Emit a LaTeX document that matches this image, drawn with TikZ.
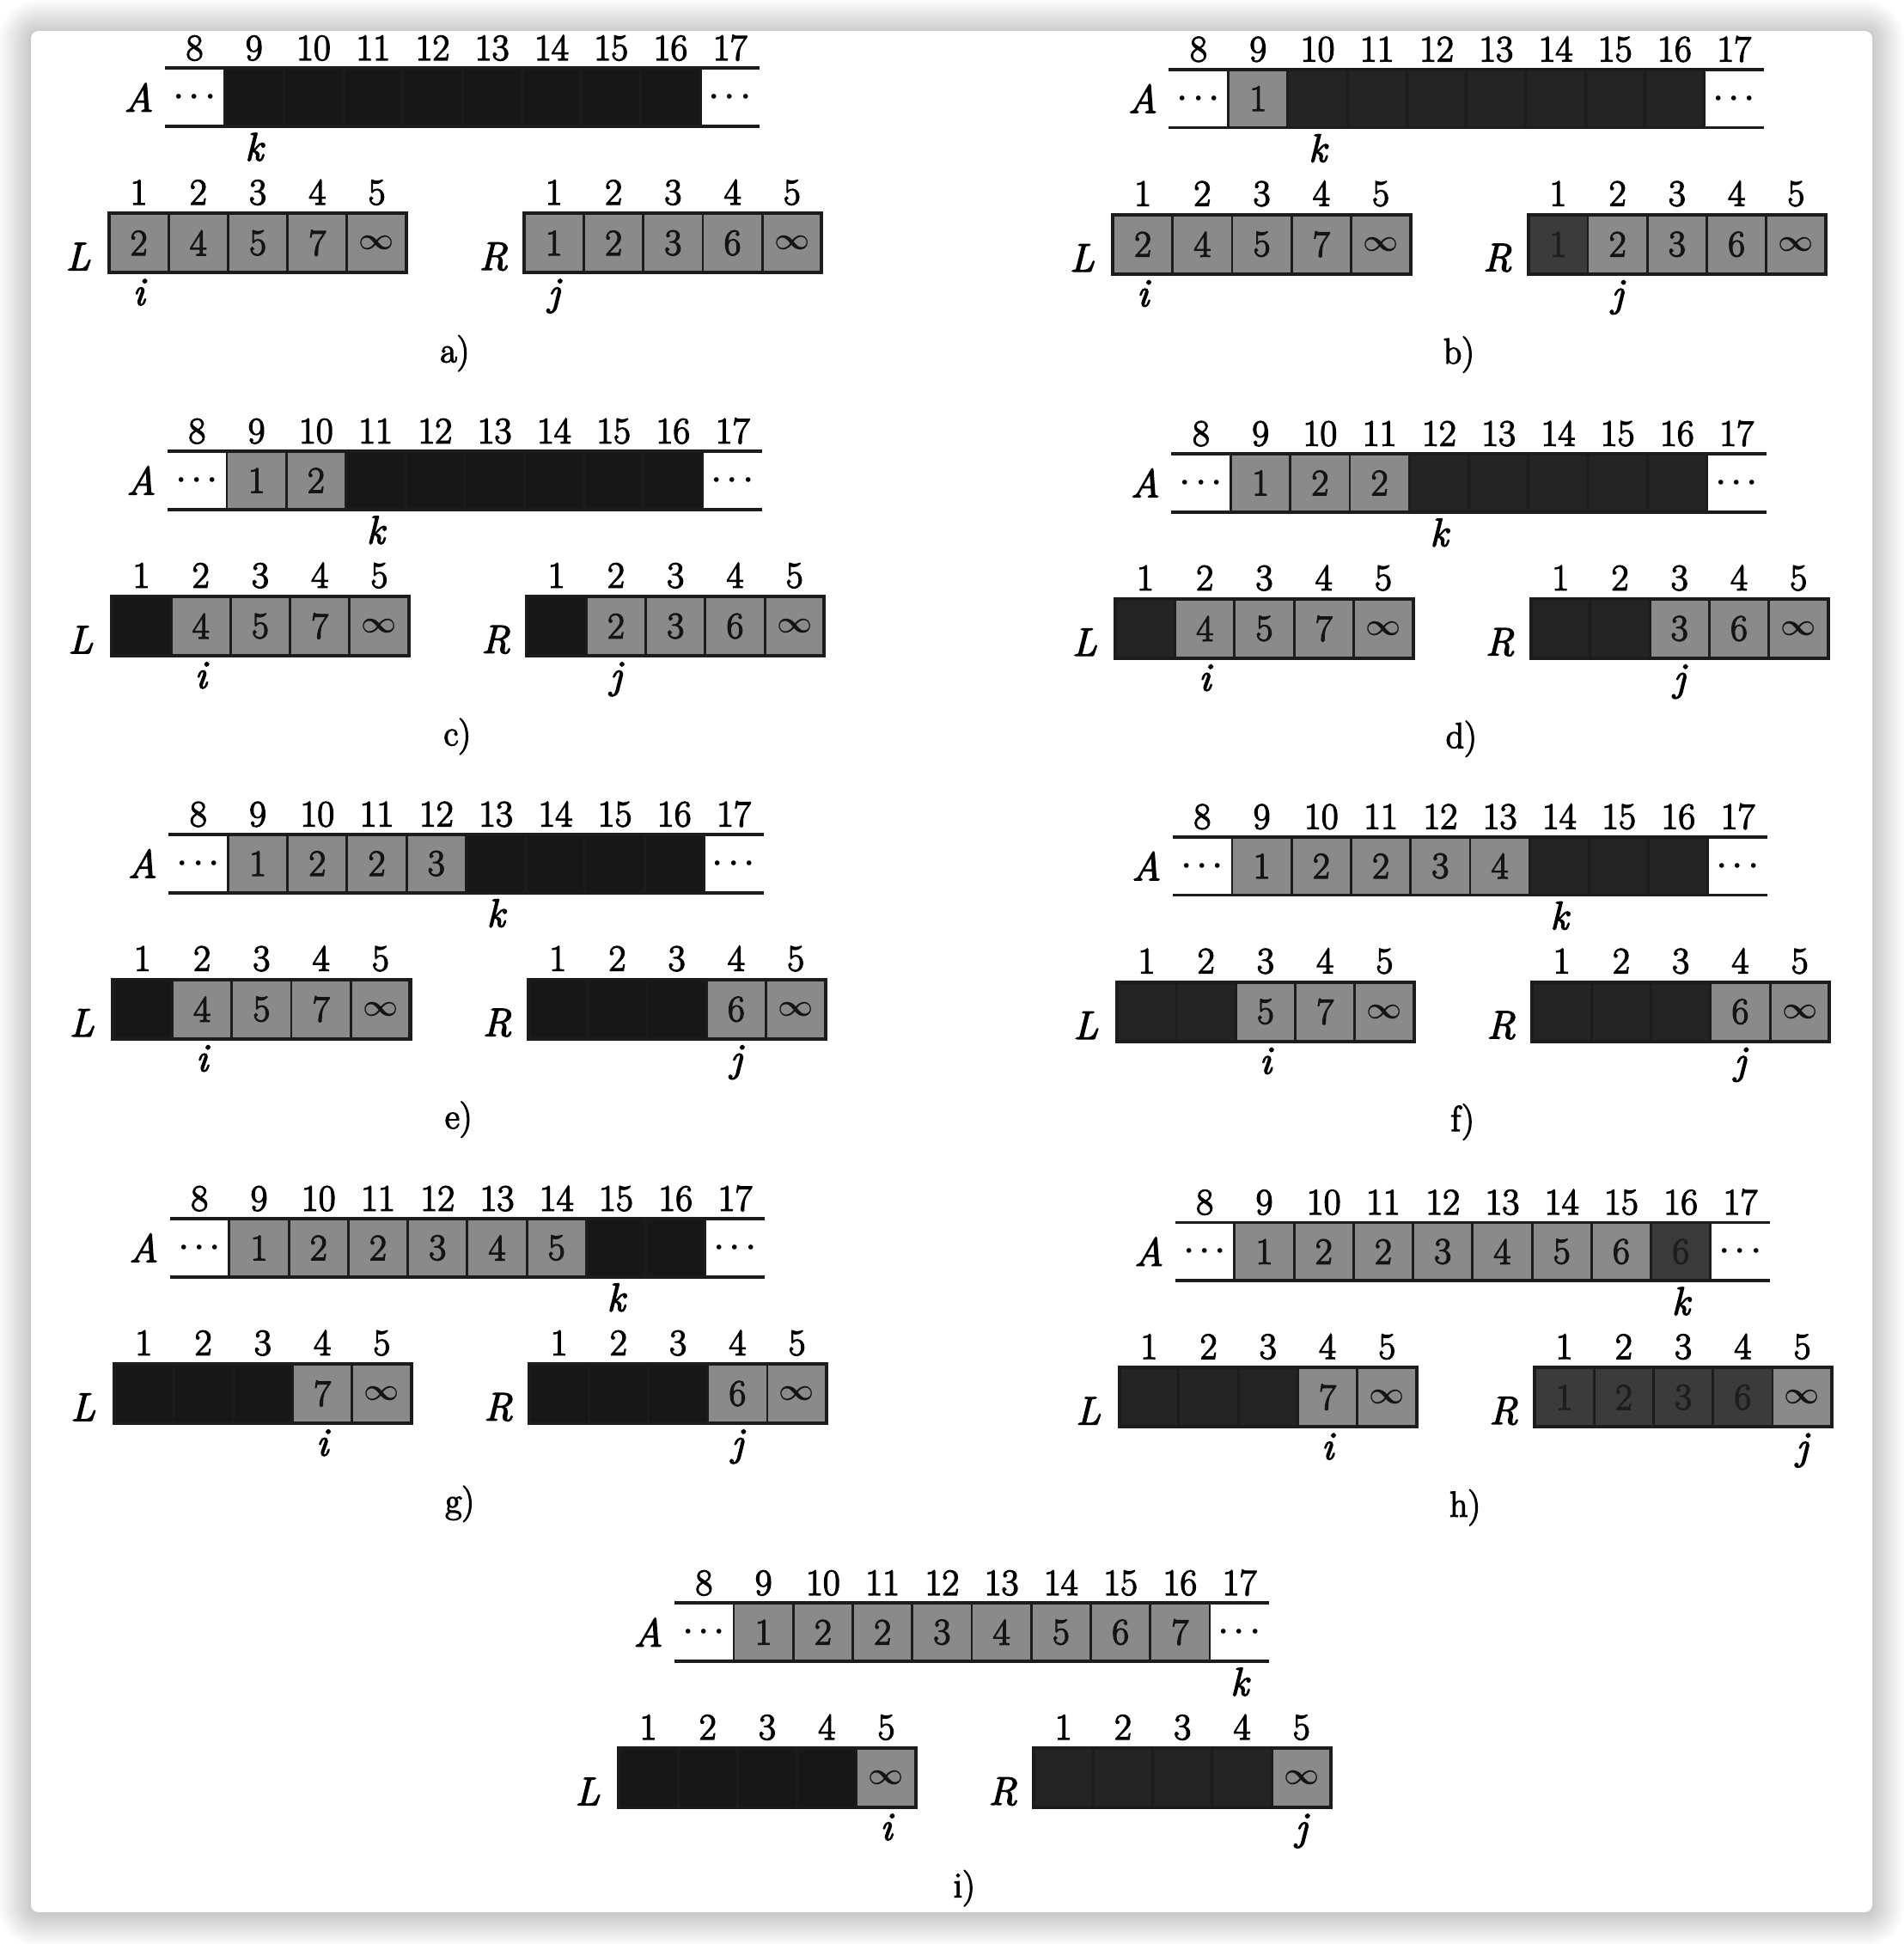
\documentclass[tikz,border=0pt]{standalone}
\usepackage{fontspec}
\newfontfamily\hvfont{Latin Modern Roman}[FakeBold=3]
\definecolor{cLt}{HTML}{8A8A8A}
\definecolor{cBk}{HTML}{171717}
\definecolor{cBkb}{HTML}{242424}
\definecolor{cDm}{HTML}{3B3B3B}
\definecolor{cDt}{HTML}{1E1E1E}
\definecolor{cTx}{HTML}{141414}
\definecolor{cEdge}{HTML}{1C1C1C}
\newcommand\valfont{\hvfont\fontsize{30}{30}\selectfont}
\newcommand\idxfont{\hvfont\fontsize{30}{30}\selectfont}
\newcommand\lblfont{\hvfont\itshape\fontsize{32}{32}\selectfont}
\newcommand\capfont{\hvfont\fontsize{29}{29}\selectfont}
\newcommand\dotsA{\makebox[24pt]{\boldmath$\cdots$}}
\newcommand\infA{{\boldmath$\infty$}}
\tikzset{
  cellbox/.style={draw=cEdge, line width=2pt, minimum width=48pt, minimum height=47pt, inner sep=0pt, outer sep=0pt, font=\valfont},
  dotbox/.style={minimum width=48pt, text width=48pt, align=center, minimum height=47pt, inner sep=0pt, outer sep=0pt, font=\fontsize{29}{29}\selectfont},
  idxlab/.style={font=\idxfont, anchor=base, inner sep=0pt},
  arrlab/.style={font=\lblfont, inner sep=0pt},
  ptrlab/.style={font=\lblfont, anchor=base, inner sep=0pt},
  caplab/.style={font=\capfont, inner sep=0pt},
  rail/.style={draw=cEdge, line width=2.6pt},
  boxframe/.style={draw=cEdge, line width=2.8pt},
}
% #1 id, #2 #3 offset, #4 A[9..16], #5 L, #6 R, #7 k, #8 i, #9 j
\newcommand\mergepanel[9]{%
\begin{scope}[shift={(#2,#3)}]
  \foreach \ci in {8,...,17}{\node[idxlab] (#1-ai\ci) at ({157+(\ci-8)*48},48.5) {\ci};}
  \node[arrlab] (#1-Alab) at (112,78.5) {A};
  \node[dotbox] (#1-a8) at (157,78.5) {\dotsA};
  \node[dotbox] (#1-a17) at (589,78.5) {\dotsA};
  \foreach \cf/\ct/\cv [count=\cn from 9] in {#4}{%
    \node[cellbox,fill=\cf,text=\ct] (#1-a\cn) at ({157+(\cn-8)*48},78.5) {\cv};}
  \draw[rail] (#1-a8.north west) -- (#1-a17.north east);
  \draw[rail] (#1-a8.south west) -- (#1-a17.south east);
  \node[ptrlab] (#1-k) at ({157+(#7-8)*48},129.5) {k};
  \node[arrlab] (#1-Llab) at (63,207) {L};
  \foreach \cf/\ct/\cv [count=\cn] in {#5}{%
    \node[cellbox,minimum height=48pt,fill=\cf,text=\ct] (#1-l\cn) at ({112+(\cn-1)*48},196) {\cv};
    \node[idxlab] (#1-li\cn) at ({112+(\cn-1)*48},165) {\cn};}
  \draw[boxframe] (#1-l1.north west) rectangle (#1-l5.south east);
  \node[ptrlab] (#1-i) at ({112+(#8-1)*48},246) {i};
  \node[arrlab] (#1-Rlab) at (398,207) {R};
  \foreach \cf/\ct/\cv [count=\cn] in {#6}{%
    \node[cellbox,minimum height=48pt,fill=\cf,text=\ct] (#1-r\cn) at ({447+(\cn-1)*48},196) {\cv};
    \node[idxlab] (#1-ri\cn) at ({447+(\cn-1)*48},165) {\cn};}
  \draw[boxframe] (#1-r1.north west) rectangle (#1-r5.south east);
  \node[ptrlab] (#1-j) at ({447+(#9-1)*48},246) {j};
  \node[caplab] (#1-cap) at (367,285) {#1)};
\end{scope}}
\begin{document}
\begin{tikzpicture}[x=1pt,y=-1pt]
\useasboundingbox (0,0) rectangle (1536,1568);
\fill[white] (0,0) rectangle (1536,1568);
\foreach \r in {1,...,26}{\fill[black, opacity=0.008, rounded corners={6+\r}] ({25-\r},{25-\r+1}) rectangle ({1510.5+\r},{1542.3+\r+1.5});}
\fill[white, rounded corners=6pt] (25,25) rectangle (1510.5,1542.3);

\mergepanel{a}{0}{0}
 {cBk/cBk/{},cBk/cBk/{},cBk/cBk/{},cBk/cBk/{},cBk/cBk/{},cBk/cBk/{},cBk/cBk/{},cBk/cBk/{}}
 {cLt/cTx/2,cLt/cTx/4,cLt/cTx/5,cLt/cTx/7,cLt/cTx/\infA}
 {cLt/cTx/1,cLt/cTx/2,cLt/cTx/3,cLt/cTx/6,cLt/cTx/\infA}
 {9}{1}{1}
\mergepanel{b}{810}{1}
 {cLt/cTx/1,cBkb/cBkb/{},cBkb/cBkb/{},cBkb/cBkb/{},cBkb/cBkb/{},cBkb/cBkb/{},cBkb/cBkb/{},cBkb/cBkb/{}}
 {cLt/cTx/2,cLt/cTx/4,cLt/cTx/5,cLt/cTx/7,cLt/cTx/\infA}
 {cDm/cDt/1,cLt/cTx/2,cLt/cTx/3,cLt/cTx/6,cLt/cTx/\infA}
 {10}{1}{2}
\mergepanel{c}{2}{309}
 {cLt/cTx/1,cLt/cTx/2,cBk/cBk/{},cBk/cBk/{},cBk/cBk/{},cBk/cBk/{},cBk/cBk/{},cBk/cBk/{}}
 {cBk/cBk/{},cLt/cTx/4,cLt/cTx/5,cLt/cTx/7,cLt/cTx/\infA}
 {cBk/cBk/{},cLt/cTx/2,cLt/cTx/3,cLt/cTx/6,cLt/cTx/\infA}
 {11}{2}{2}
\mergepanel{d}{812}{311}
 {cLt/cTx/1,cLt/cTx/2,cLt/cTx/2,cBkb/cBkb/{},cBkb/cBkb/{},cBkb/cBkb/{},cBkb/cBkb/{},cBkb/cBkb/{}}
 {cBkb/cBkb/{},cLt/cTx/4,cLt/cTx/5,cLt/cTx/7,cLt/cTx/\infA}
 {cBkb/cBkb/{},cBkb/cBkb/{},cLt/cTx/3,cLt/cTx/6,cLt/cTx/\infA}
 {12}{2}{3}
\mergepanel{e}{3}{618}
 {cLt/cTx/1,cLt/cTx/2,cLt/cTx/2,cLt/cTx/3,cBk/cBk/{},cBk/cBk/{},cBk/cBk/{},cBk/cBk/{}}
 {cBk/cBk/{},cLt/cTx/4,cLt/cTx/5,cLt/cTx/7,cLt/cTx/\infA}
 {cBk/cBk/{},cBk/cBk/{},cBk/cBk/{},cLt/cTx/6,cLt/cTx/\infA}
 {13}{2}{4}
\mergepanel{f}{813}{620}
 {cLt/cTx/1,cLt/cTx/2,cLt/cTx/2,cLt/cTx/3,cLt/cTx/4,cBkb/cBkb/{},cBkb/cBkb/{},cBkb/cBkb/{}}
 {cBkb/cBkb/{},cBkb/cBkb/{},cLt/cTx/5,cLt/cTx/7,cLt/cTx/\infA}
 {cBkb/cBkb/{},cBkb/cBkb/{},cBkb/cBkb/{},cLt/cTx/6,cLt/cTx/\infA}
 {14}{3}{4}
\mergepanel{g}{4}{928}
 {cLt/cTx/1,cLt/cTx/2,cLt/cTx/2,cLt/cTx/3,cLt/cTx/4,cLt/cTx/5,cBk/cBk/{},cBk/cBk/{}}
 {cBk/cBk/{},cBk/cBk/{},cBk/cBk/{},cLt/cTx/7,cLt/cTx/\infA}
 {cBk/cBk/{},cBk/cBk/{},cBk/cBk/{},cLt/cTx/6,cLt/cTx/\infA}
 {15}{4}{4}
\mergepanel{h}{815}{931}
 {cLt/cTx/1,cLt/cTx/2,cLt/cTx/2,cLt/cTx/3,cLt/cTx/4,cLt/cTx/5,cLt/cTx/6,cDm/cDt/6}
 {cBkb/cBkb/{},cBkb/cBkb/{},cBkb/cBkb/{},cLt/cTx/7,cLt/cTx/\infA}
 {cDm/cDt/1,cDm/cDt/2,cDm/cDt/3,cDm/cDt/6,cLt/cTx/\infA}
 {16}{4}{5}
\mergepanel{i}{411}{1238}
 {cLt/cTx/1,cLt/cTx/2,cLt/cTx/2,cLt/cTx/3,cLt/cTx/4,cLt/cTx/5,cLt/cTx/6,cLt/cTx/7}
 {cBk/cBk/{},cBk/cBk/{},cBk/cBk/{},cBk/cBk/{},cLt/cTx/\infA}
 {cBkb/cBkb/{},cBkb/cBkb/{},cBkb/cBkb/{},cBkb/cBkb/{},cLt/cTx/\infA}
 {17}{5}{5}
\end{tikzpicture}
\end{document}
